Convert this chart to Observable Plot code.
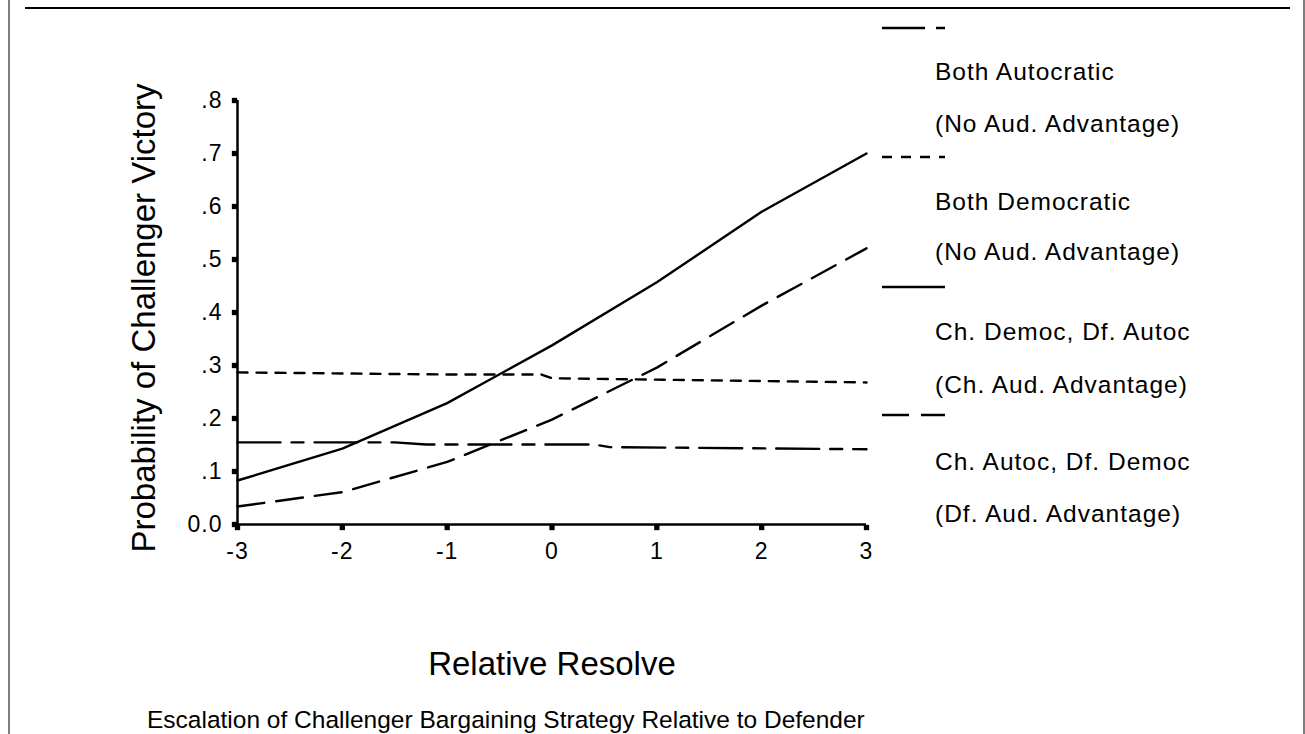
<!DOCTYPE html>
<html><head><meta charset="utf-8">
<script src="https://cdn.jsdelivr.net/npm/d3@7"></script>
<script src="https://cdn.jsdelivr.net/npm/@observablehq/plot@0.6"></script>
<style>
html,body{margin:0;padding:0;background:#fff;}
#chart{position:relative;width:1305px;height:734px;overflow:hidden;}
svg{display:block;}
</style></head><body><div id="chart"></div>
<script>
// ---- data ----
const xTicks = [-3, -2, -1, 0, 1, 2, 3];
const xTickLabels = ["-3", "-2", "-1", "0", "1", "2", "3"];
const yTicks = [0, 0.1, 0.2, 0.3, 0.4, 0.5, 0.6, 0.7, 0.8];
const yTickLabels = ["0.0", ".1", ".2", ".3", ".4", ".5", ".6", ".7", ".8"];

const bothAutX = [-3, -1.5, -1.2, 0.4, 0.55, 3];
const bothAutY = [0.155, 0.155, 0.151, 0.151, 0.146, 0.142];
const bothDemX = [-3, -1, -0.1, 0, 3];
const bothDemY = [0.287, 0.283, 0.283, 0.276, 0.268];
const chDemX = [-3, -2, -1, 0, 1, 2, 3];
const chDemY = [0.083, 0.143, 0.229, 0.338, 0.457, 0.590, 0.700];
const chAutX = [-3, -2, -1, 0, 1, 2, 3];
const chAutY = [0.034, 0.061, 0.118, 0.198, 0.296, 0.413, 0.521];

const seriesNames = ["Both Autocratic", "Both Democratic", "Ch. Democ, Df. Autoc", "Ch. Autoc, Df. Democ"];
const seriesNotes = ["(No Aud. Advantage)", "(No Aud. Advantage)", "(Ch. Aud. Advantage)", "(Df. Aud. Advantage)"];
const xTitle = "Relative Resolve";
const yTitle = "Probability of Challenger Victory";
const caption = "Escalation of Challenger Bargaining Strategy Relative to Defender";

// ---- styles ----
const dashes = ["43,11,12,11", "10,9", null, "27,12"];
const FONT = "'Liberation Sans', Arial, Helvetica, sans-serif";

const seriesX = [bothAutX, bothDemX, chDemX, chAutX];
const seriesY = [bothAutY, bothDemY, chDemY, chAutY];
const tables = seriesX.map((xs, s) => xs.map((x, i) => ({x, y: seriesY[s][i]})));

const W = 1305, H = 734;
const plot = Plot.plot({
  width: W, height: H,
  marginLeft: 237, marginRight: W - 866, marginTop: 100, marginBottom: H - 524,
  style: {fontFamily: FONT, background: "white", color: "black", overflow: "visible"},
  x: {domain: [-3, 3]},
  y: {domain: [0, 0.8]},
  marks: [
    Plot.axisX({ticks: xTicks, tickFormat: d => xTickLabels[xTicks.indexOf(d)], tickSize: 0,
      tickPadding: 18, fontSize: 23, label: null}),
    Plot.axisY({ticks: yTicks, tickFormat: d => yTickLabels[Math.round(d * 10)], tickSize: 0,
      tickPadding: 15, fontSize: 23, label: null}),
    Plot.dot(xTicks, {x: d => d, y: () => 0, symbol: "square", r: 3, fill: "black", stroke: null, dy: 3}),
    Plot.dot(yTicks, {x: () => -3, y: d => d, symbol: "square", r: 3, fill: "black", stroke: null, dx: -3}),
    Plot.ruleY([0], {strokeWidth: 2.5}),
    Plot.ruleX([-3], {strokeWidth: 2.5}),
    ...tables.map((t, s) => Plot.line(t, {x: "x", y: "y", stroke: "black", strokeWidth: 2.4,
      strokeDasharray: dashes[s] || undefined}))
  ]
});
document.getElementById("chart").appendChild(plot);
d3.select(plot).selectAll("[aria-label='x-axis tick label'] text, [aria-label='y-axis tick label'] text")
  .attr("letter-spacing", 1);

// ---- titles, legend, frame ----
const svg = d3.select(plot);
const g = svg.append("g").attr("font-family", FONT).attr("fill", "black").attr("text-anchor", "start");

g.append("text").attr("x", 552).attr("y", 675).attr("text-anchor", "middle")
  .attr("font-size", 33).text(xTitle);
g.append("text").attr("transform", "translate(155,318) rotate(-90)").attr("text-anchor", "middle")
  .attr("font-size", 33).text(yTitle);
g.append("text").attr("x", 147).attr("y", 728).attr("text-anchor", "start")
  .attr("font-size", 24.5).text(caption);

const legendY = [28, 157, 287, 415];
const textY = [[80, 132], [210, 260], [340, 393], [470, 522]];
seriesNames.forEach((name, i) => {
  const l = g.append("line").attr("x1", 882).attr("x2", 945)
    .attr("y1", legendY[i]).attr("y2", legendY[i])
    .attr("stroke", "black").attr("stroke-width", 2.4);
  if (dashes[i]) l.attr("stroke-dasharray", dashes[i]);
  g.append("text").attr("x", 935).attr("y", textY[i][0]).attr("font-size", 24.5).attr("text-anchor", "start")
    .attr("letter-spacing", 1).text(name);
  g.append("text").attr("x", 935).attr("y", textY[i][1]).attr("font-size", 24.5).attr("text-anchor", "start")
    .attr("letter-spacing", 1).text(seriesNotes[i]);
});

// frame
g.append("line").attr("x1", 9).attr("x2", 9).attr("y1", 0).attr("y2", H).attr("stroke", "#555").attr("stroke-width", 1.5);
g.append("line").attr("x1", 1304).attr("x2", 1304).attr("y1", 0).attr("y2", H).attr("stroke", "#555").attr("stroke-width", 1.5);
g.append("line").attr("x1", 25).attr("x2", 1290).attr("y1", 8).attr("y2", 8).attr("stroke", "black").attr("stroke-width", 2);
</script>
</body></html>
